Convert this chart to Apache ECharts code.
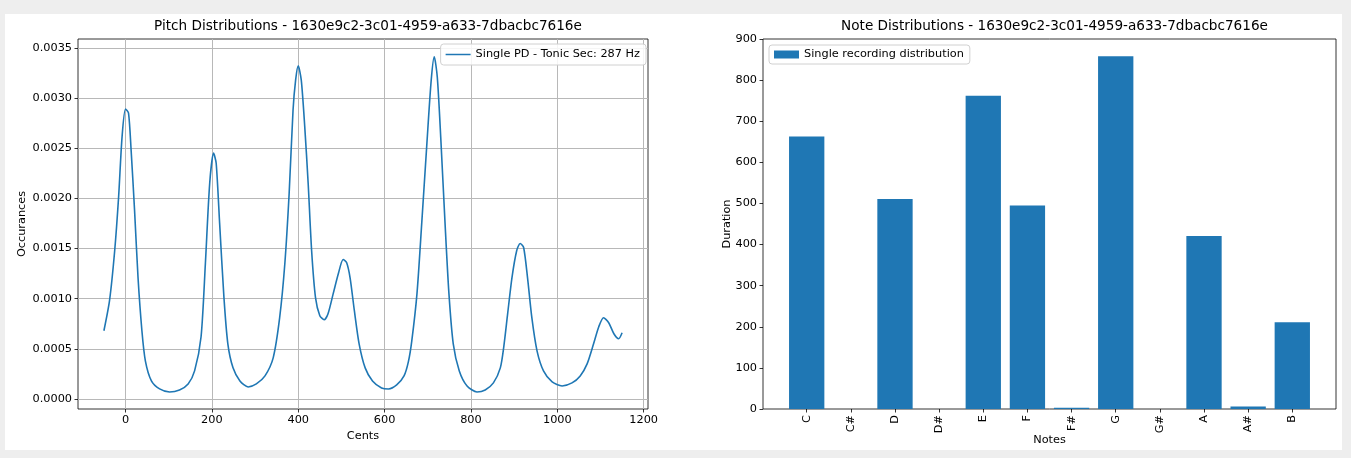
<!DOCTYPE html>
<html>
<head>
<meta charset="utf-8">
<script src="https://cdn.jsdelivr.net/npm/echarts@6/dist/echarts.min.js"></script>
<style>
  html, body { margin: 0; padding: 0; background: #eeeeee; width: 1351px; height: 458px; overflow: hidden; }
  #c { position: absolute; left: 5px; top: 14px; width: 1337px; height: 436px; background: #ffffff; }
</style>
</head>
<body>
<div id="c"></div>
<script>
// ---- Pitch distribution (left) ----
const pitchTitle = 'Pitch Distributions - 1630e9c2-3c01-4959-a633-7dbacbc7616e';
const pitchLegend = 'Single PD - Tonic Sec: 287 Hz';
const cents = [-50,-37,-25,-16,-8,0,7,13,21,29,38,46,60,79,102,125,145,160,175,185,195,204,210,218,228,237,249,265,284,303,323,342,357,369,379,388,394,400,407,415,423,431,440,450,460,469,481,493,504,512,520,530,541,555,572,593,609,628,645,655,663,675,686,698,708,715,722,730,740,749,759,773,791,814,833,852,868,876,885,895,906,914,922,931,941,953,968,988,1011,1034,1053,1069,1084,1096,1107,1119,1131,1142,1150];
const occurances = [0.00068,0.00098,0.00148,0.00201,0.00261,0.00289,0.00285,0.00248,0.00188,0.00121,0.00068,0.00038,0.00018,0.00010,0.00007,0.00009,0.00015,0.00028,0.00062,0.00135,0.00215,0.00245,0.00235,0.00175,0.00101,0.00055,0.00031,0.00018,0.00012,0.00015,0.00023,0.00041,0.00081,0.00135,0.00205,0.00288,0.00318,0.00332,0.00318,0.00272,0.00215,0.00148,0.00101,0.00083,0.00079,0.00085,0.00105,0.00125,0.00139,0.00136,0.00121,0.00088,0.00055,0.00031,0.00018,0.00011,0.00010,0.00014,0.00023,0.00037,0.00058,0.00105,0.00175,0.00255,0.00318,0.00341,0.00321,0.00261,0.00175,0.00105,0.00055,0.00028,0.00013,0.00007,0.00009,0.00016,0.00031,0.00052,0.00085,0.00121,0.00148,0.00155,0.00151,0.00121,0.00081,0.00048,0.00028,0.00017,0.00013,0.00016,0.00023,0.00035,0.00055,0.00072,0.00081,0.00076,0.00065,0.00060,0.00066];
const centTicks = [0,200,400,600,800,1000,1200];
const occTicks = [0,0.0005,0.0010,0.0015,0.0020,0.0025,0.0030,0.0035];

// ---- Note distribution (right) ----
const noteTitle = 'Note Distributions - 1630e9c2-3c01-4959-a633-7dbacbc7616e';
const noteLegend = 'Single recording distribution';
const notes = ['C','C#','D','D#','E','F','F#','G','G#','A','A#','B'];
const durations = [663,0,511,0,762,495,3,858,0,421,6,211];
const noteTicks = [0,1,2,3,4,5,6,7,8,9,10,11];

const FONT = 'DejaVu Sans';
const BLUE = '#1f77b4';
const FS = 11.3;
const chart = echarts.init(document.getElementById('c'), null, {renderer: 'canvas'});

const g1 = {left: 73, top: 25, width: 570, height: 370};
const g2 = {left: 758, top: 25, width: 573, height: 370};
const noteMin = -0.99, noteMax = 11.99;
const barW = 0.8 * g2.width / (noteMax - noteMin);

const txt = {color: '#000', fontFamily: FONT, fontSize: FS};
const tick = {show: true, length: 3.5, lineStyle: {color: '#000', width: 0.8}};
const noLine = {show: false, onZero: false};
const gridBase = {show: true, borderColor: '#000', borderWidth: 0.8, backgroundColor: 'transparent',
                  containLabel: false, outerBoundsMode: 'none'};

chart.setOption({
  animation: false,
  textStyle: {fontFamily: FONT},
  title: [
    {text: pitchTitle, left: g1.left + g1.width / 2, textAlign: 'center', top: 0,
     textStyle: {fontFamily: FONT, fontSize: 13.6, fontWeight: 'normal', color: '#000'}},
    {text: noteTitle, left: g2.left + g2.width / 2, textAlign: 'center', top: 0,
     textStyle: {fontFamily: FONT, fontSize: 13.6, fontWeight: 'normal', color: '#000'}}
  ],
  legend: [
    {data: [{name: pitchLegend, icon: 'rect'}], right: 1337 - 641, top: 30,
     itemWidth: 25, itemHeight: 1.5, itemGap: 0,
     backgroundColor: 'rgba(255,255,255,0.85)', borderColor: '#d0d0d0', borderWidth: 1, borderRadius: 3,
     padding: [5, 6, 5, 5], textStyle: {fontFamily: FONT, fontSize: FS, color: '#000'}},
    {data: [{name: noteLegend, icon: 'rect'}], left: 764, top: 31,
     itemWidth: 25, itemHeight: 8, itemGap: 0,
     backgroundColor: 'rgba(255,255,255,0.85)', borderColor: '#d0d0d0', borderWidth: 1, borderRadius: 3,
     padding: [4, 6, 4, 5], textStyle: {fontFamily: FONT, fontSize: FS, color: '#000'}}
  ],
  grid: [
    Object.assign({}, gridBase, g1),
    Object.assign({}, gridBase, g2)
  ],
  xAxis: [
    {type: 'value', gridIndex: 0, min: -110, max: 1210,
     name: 'Cents', nameLocation: 'middle', nameGap: 22, nameMoveOverlap: false, nameTextStyle: txt,
     axisLine: noLine,
     axisTick: Object.assign({customValues: centTicks}, tick),
     axisLabel: Object.assign({customValues: centTicks, margin: 6, formatter: v => String(v)}, txt),
     splitLine: {show: true, lineStyle: {color: '#b8b8b8', width: 1}}},
    {type: 'value', gridIndex: 1, min: noteMin, max: noteMax,
     name: 'Notes', nameLocation: 'middle', nameGap: 26, nameMoveOverlap: false, nameTextStyle: txt,
     axisLine: noLine,
     axisTick: Object.assign({customValues: noteTicks}, tick),
     axisLabel: Object.assign({customValues: noteTicks, rotate: 90, margin: 6,
       formatter: v => notes[Math.round(v)]}, txt),
     splitLine: {show: false}}
  ],
  yAxis: [
    {type: 'value', gridIndex: 0, min: -0.0001, max: 0.003588,
     name: 'Occurances', nameLocation: 'middle', nameGap: 50, nameMoveOverlap: false, nameTextStyle: txt,
     axisLine: noLine,
     axisTick: Object.assign({customValues: occTicks}, tick),
     axisLabel: Object.assign({customValues: occTicks, margin: 6, formatter: v => v.toFixed(4)}, txt),
     splitLine: {show: true, lineStyle: {color: '#b8b8b8', width: 1}}},
    {type: 'value', gridIndex: 1, min: 0, max: 900, interval: 100,
     name: 'Duration', nameLocation: 'middle', nameGap: 30, nameMoveOverlap: false, nameTextStyle: txt,
     axisLine: noLine,
     axisTick: tick,
     axisLabel: Object.assign({margin: 6}, txt),
     splitLine: {show: false}}
  ],
  series: [
    {name: pitchLegend, type: 'line', xAxisIndex: 0, yAxisIndex: 0,
     data: cents.map((c, i) => [c, occurances[i]]),
     symbol: 'none', smooth: 0.25, lineStyle: {color: BLUE, width: 1.6}, itemStyle: {color: BLUE}},
    {name: noteLegend, type: 'bar', xAxisIndex: 1, yAxisIndex: 1,
     data: durations.map((d, i) => [noteTicks[i], d]),
     barWidth: barW, itemStyle: {color: BLUE}}
  ]
});
</script>
</body>
</html>
